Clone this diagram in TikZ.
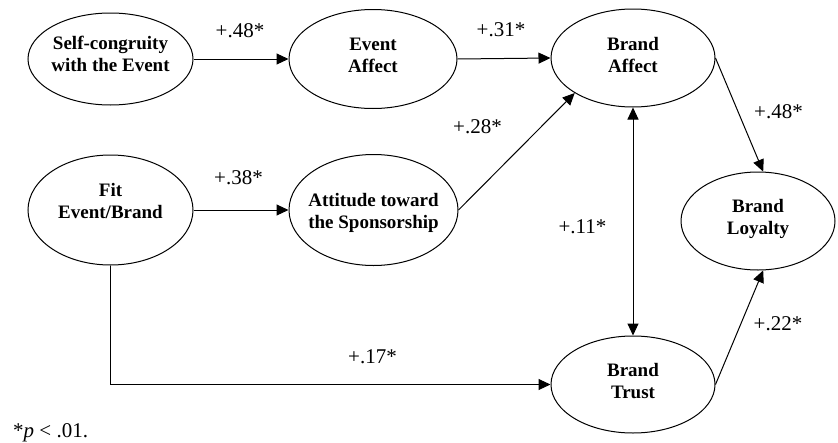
\documentclass[tikz,border=0pt]{standalone}
\usepackage{fontspec}
\setmainfont{Liberation Serif}
\usetikzlibrary{shapes.geometric,arrows.meta}
\begin{document}
\begin{tikzpicture}[x=1pt,y=-1pt,
  ell/.style={ellipse,draw,line width=1pt,inner sep=0pt},
  nt/.style={font=\fontsize{19}{22}\selectfont\bfseries,align=center,inner sep=0pt},
  coef/.style={font=\fontsize{21}{24}\selectfont,inner sep=0pt},
  arr/.style={line width=1pt,-{Triangle[length=12pt,width=11pt]}},
  darr/.style={line width=1pt,{Triangle[length=12pt,width=11pt]}-{Triangle[length=12pt,width=11pt]}}]
\useasboundingbox (0,0) rectangle (838,442);
% ellipses
\node[ell,minimum width=165pt,minimum height=92pt] (sc) at (110.5,59) {};
\node[ell,minimum width=168pt,minimum height=99pt] (ea) at (373,59) {};
\node[ell,minimum width=164pt,minimum height=98pt] (ba) at (633,58) {};
\node[ell,minimum width=165pt,minimum height=110pt] (fit) at (110.5,210) {};
\node[ell,minimum width=169pt,minimum height=111pt] (att) at (373.5,210) {};
\node[ell,minimum width=154pt,minimum height=98pt] (bl) at (758,221) {};
\node[ell,minimum width=164pt,minimum height=97pt] (bt) at (633,384.5) {};
% texts
\node[nt] (scT) at (110.5,54) {Self-congruity\\with the Event};
\node[nt] (eaT) at (373,55) {Event\\Affect};
\node[nt] (baT) at (633,54.5) {Brand\\Affect};
\node[nt] (fitT) at (110.5,201) {Fit\\Event/Brand};
\node[nt] (attT) at (373.5,212.5) {Attitude toward\\the Sponsorship};
\node[nt] (blT) at (758,219) {Brand\\Loyalty};
\node[nt] (btT) at (633,381) {Brand\\Trust};
% connectors
\draw[arr] (sc.east) -- (ea.west);
\draw[arr] (ea.east) -- (ba.west);
\draw[arr] (fit.east) -- (att.west);
\draw[arr] (att.east) -- (ba.211);
\draw[darr] (ba.south) -- (bt.north);
\draw[arr] (ba.east) -- (bl.84);
\draw[arr] (bt.east) -- (bl.276);
\draw[arr] (fit.south) |- (bt.west);
% coefficients
\node[coef] (c1) at (240,31) {+.48*};
\node[coef] (c2) at (501,30) {+.31*};
\node[coef] (c3) at (477.5,127) {+.28*};
\node[coef] (c4) at (238.5,177.5) {+.38*};
\node[coef] (c5) at (582.5,227) {+.11*};
\node[coef] (c6) at (778.5,111.5) {+.48*};
\node[coef] (c7) at (778,324) {+.22*};
\node[coef] (c8) at (372.5,356.5) {+.17*};
\node[coef,anchor=base west] (note) at (13,437) {*\textit{p} < .01.};
\end{tikzpicture}
\end{document}
